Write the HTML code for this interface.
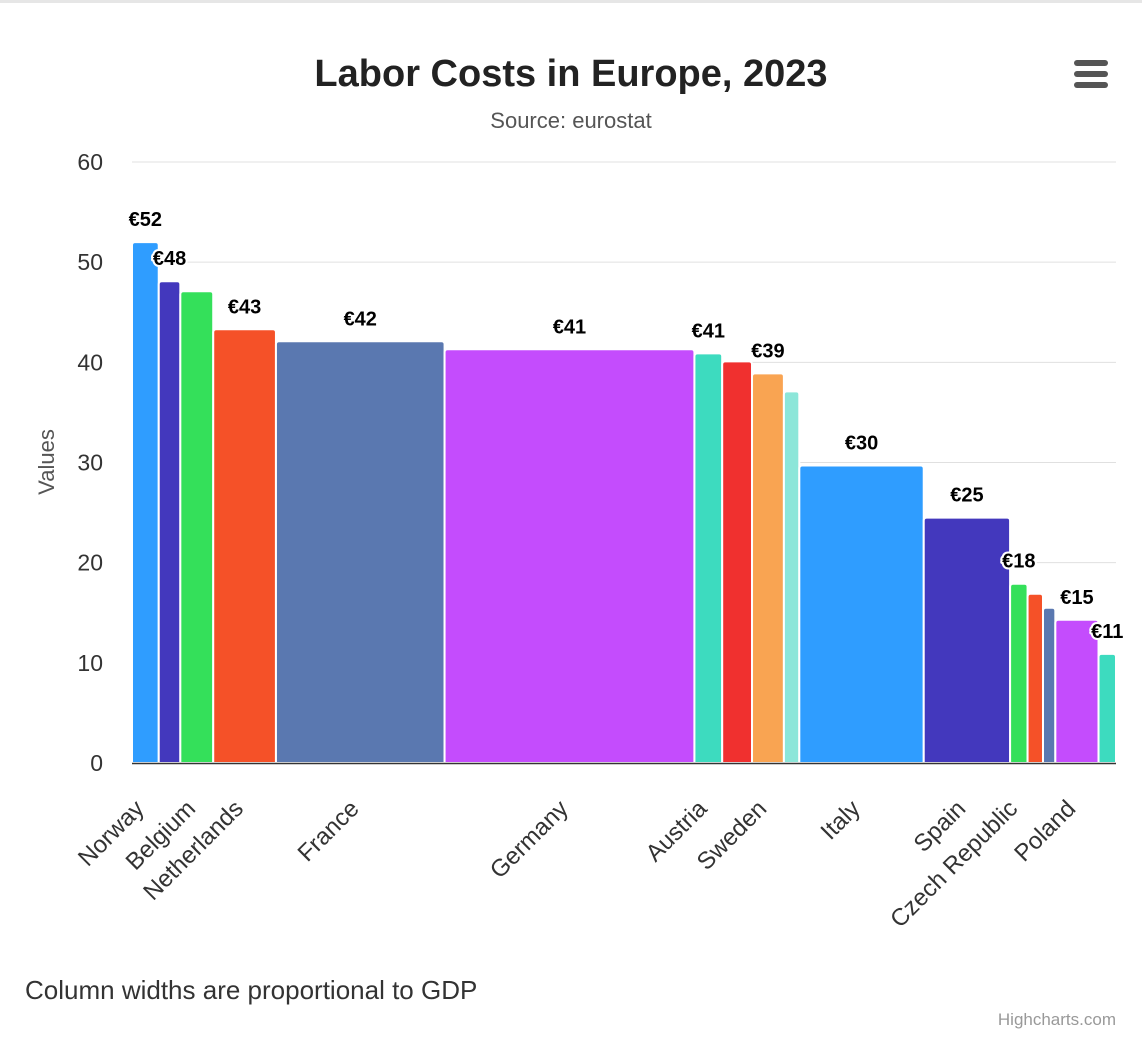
<!DOCTYPE html>
<html><head><meta charset="utf-8"><style>
body{margin:0;background:#fff;font-family:"Liberation Sans",sans-serif}
</style></head><body>
<svg width="1142" height="1042" xmlns="http://www.w3.org/2000/svg" font-family="Liberation Sans, sans-serif">
<rect x="0" y="0" width="1142" height="3" fill="#e6e6e6"/>
<text x="571" y="86" text-anchor="middle" font-size="38" font-weight="bold" fill="#222">Labor Costs in Europe, 2023</text>
<text x="571" y="128" text-anchor="middle" font-size="22" fill="#555">Source: eurostat</text>
<g fill="#555">
<rect x="1074" y="60" width="34" height="6" rx="3"/><rect x="1074" y="71" width="34" height="6" rx="3"/><rect x="1074" y="82" width="34" height="6" rx="3"/>
</g>
<g id="grid"></g><g id="bars"></g><g id="labels"></g><g id="xlabels"></g>
<text transform="translate(54,462) rotate(-90)" text-anchor="middle" font-size="22" fill="#555">Values</text>
<text x="25" y="999" font-size="26" fill="#333">Column widths are proportional to GDP</text>
<text x="1116" y="1025" text-anchor="end" font-size="17" fill="#999">Highcharts.com</text>
</svg>
<script>
const categories=['Norway','Denmark','Belgium','Netherlands','France','Germany','Austria','Ireland','Sweden','Finland','Italy','Spain','Czech Republic','Slovenia','Portugal','Poland','Hungary'];
const values=[52,48.1,47.1,43.3,42.1,41.3,40.9,40.1,38.9,37.1,29.7,24.5,17.9,16.9,15.5,14.3,10.9];
const gdp=[26,21,32,61,164,243,27,29,31,15,121,84,17,15,12,42,17];
const valueLabels=['€52','€48','','€43','€42','€41','€41','','€39','','€30','€25','€18','','','€15','€11'];
const shownX=['Norway','Belgium','Netherlands','France','Germany','Austria','Sweden','Italy','Spain','Czech Republic','Poland'];
const yTicks=[0,10,20,30,40,50,60];
const colors=['#2f9dff','#4338bd','#34e05a','#f55128','#5a78b0','#c44cfd','#3ddbbf','#f0302f','#f9a452','#8ce6d9'];
const NS='http://www.w3.org/2000/svg';
const X0=132,X1=1116,Y0=763,Y60=162;
const y=v=>Y0-(v/60)*(Y0-Y60);
const totalG=gdp.reduce((a,b)=>a+b,0);
const x=g=>X0+(g/totalG)*(X1-X0);
function mk(t,a,p){const e=document.createElementNS(NS,t);for(const k in a)e.setAttribute(k,a[k]);p.appendChild(e);return e;}
const grid=document.getElementById('grid');
yTicks.forEach(t=>{
 if(t>0){const l=mk('line',{x1:X0,x2:X1,y1:y(t),y2:y(t),stroke:'#e0e0e0','stroke-width':1},grid);
 
 }
 const tx=mk('text',{x:103,y:y(t)+8,'text-anchor':'end','font-size':23,fill:'#333'},grid);tx.textContent=t;
 
 
});
const bars=document.getElementById('bars'),labels=document.getElementById('labels'),xl=document.getElementById('xlabels');
let cum=0;
categories.forEach((c,i)=>{
 const xa=x(cum),xb=x(cum+gdp[i]);cum+=gdp[i];
 const top=y(values[i]),r=3;
 const p=mk('path',{d:`M${xa},${Y0} L${xa},${top+r} Q${xa},${top} ${xa+r},${top} L${xb-r},${top} Q${xb},${top} ${xb},${top+r} L${xb},${Y0} Z`,fill:colors[i%colors.length],stroke:'#fff','stroke-width':2},bars);
 
 
 const cx=(xa+xb)/2;
 if(valueLabels[i]){
  const t=mk('text',{x:cx,y:top-16,'text-anchor':'middle','font-size':20,'font-weight':'bold',fill:'#000',stroke:'#fff','stroke-width':4,'paint-order':'stroke','stroke-linejoin':'round'},labels);
  t.textContent=valueLabels[i];
  
  
 }
 if(shownX.includes(c)){
  const t=mk('text',{transform:`translate(${cx},${810}) rotate(-45)`,'text-anchor':'end','font-size':24,fill:'#333'},xl);
  t.textContent=c;
  
  
 }
});
const ax=mk('line',{x1:X0,x2:X1,y1:Y0+0.5,y2:Y0+0.5,stroke:'#333','stroke-width':1.5},xl);


</script>
</body></html>
